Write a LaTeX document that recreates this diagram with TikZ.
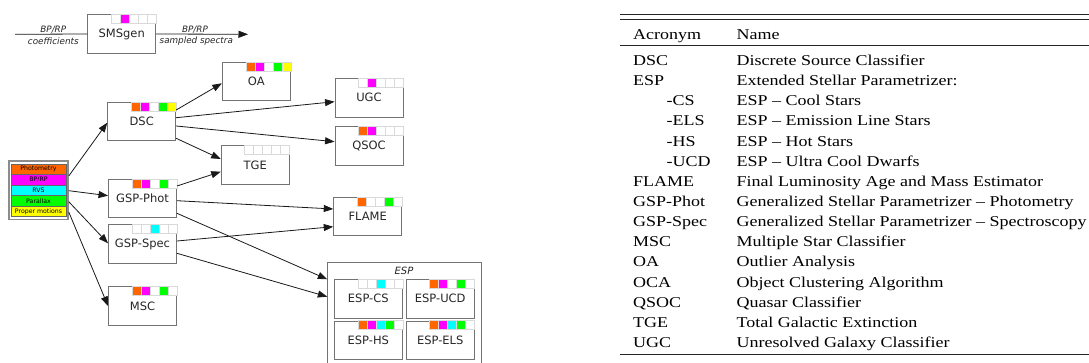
\documentclass[tikz,border=0pt]{standalone}
\usepackage{fontspec}
\setmainfont{Liberation Serif}
\newfontfamily\dv{DejaVu Sans}
\newfontfamily\tbl[FakeStretch=1.2]{Liberation Serif}
\usetikzlibrary{arrows.meta,calc}
\definecolor{cO}{HTML}{FF6600}
\definecolor{cM}{HTML}{FF00FF}
\definecolor{cC}{HTML}{00FFFF}
\definecolor{cG}{HTML}{00FF00}
\definecolor{cY}{HTML}{FFFF00}
\definecolor{cW}{HTML}{FFFFFF}
\tikzset{
  mbox/.style={draw=black!55, line width=0.9pt, minimum width=68pt, minimum height=38.5pt,
    inner sep=0pt, text=black!85, font=\dv\fontsize{11.5}{12}\selectfont},
  arr/.style={-{Triangle[length=9.5pt,width=7pt]}, line width=0.8pt, black!90},
  plain/.style={line width=0.8pt, black!90},
  lbl/.style={inner sep=0pt, text=black!85, font=\dv\itshape\fontsize{8.8}{9}\selectfont},
  legcell/.style={draw=black!60, line width=0.4pt, minimum width=55pt, minimum height=10.5pt,
    inner sep=0pt, font=\dv\fontsize{6.2}{6.5}\selectfont},
  cell/.style={draw=black!15, line width=0.5pt},
  tt/.style={anchor=base west, inner sep=0pt, font=\tbl\fontsize{15}{16}\selectfont},
  rule/.style={line width=0.8pt, black!85}
}
\newcommand\mystrip[2]{%
  \foreach \c [count=\i] in {#2} {
    \filldraw[cell, fill=\c] ($(#1.north east)+(\i*9-54,0)$) rectangle ++(9,9);
  }}
\newcommand\trow[4]{%
  \node[tt] (ta#1) at (#2, 65.5+20.15*#1) {#3};
  \node[tt] (tb#1) at (736.5, 65.5+20.15*#1) {#4};}
\begin{document}
\begin{tikzpicture}[x=1pt,y=-1pt]
\useasboundingbox (0,0) rectangle (1089,363);

% SMSgen
\node[mbox] (smsgen) at (121.7,34) {SMSgen};
\mystrip{smsgen}{cW,cM,cW,cW,cW}
\coordinate (c0) at (15,34.3);
\coordinate (c1) at (248,34.3);
\draw[plain] (c0) -- (smsgen.west);
\draw[arr] (smsgen.east) -- (c1);
\node[lbl] (l1) at (53.3,30) {BP/RP};
\node[lbl] (l2) at (53.3,41.5) {coefficients};
\node[lbl] (l3) at (195,30) {BP/RP};
\node[lbl] (l4) at (196.3,41.5) {sampled spectra};

% legend / input
\node[draw=black!45, line width=1.5pt, minimum width=59pt, minimum height=58.5pt, inner sep=0pt] (in) at (38.5,190.25) {};
\node[legcell, fill=cO] (g1) at (38.5,169.2) {Photometry};
\node[legcell, fill=cM] (g2) at (38.5,179.7) {BP/RP};
\node[legcell, fill=cC] (g3) at (38.5,190.3) {RVS};
\node[legcell, fill=cG] (g4) at (38.5,200.8) {Parallax};
\node[legcell, fill=cY] (g5) at (38.5,211.4) {Proper motions};

% modules
\node[mbox] (dsc) at (141.7,121.7) {DSC};
\mystrip{dsc}{cO,cM,cW,cG,cY}
\node[mbox] (gspphot) at (142.5,198.5) {GSP-Phot};
\mystrip{gspphot}{cO,cM,cW,cG,cW}
\node[mbox] (gspspec) at (142.5,244.2) {GSP-Spec};
\mystrip{gspspec}{cW,cW,cC,cW,cW}
\node[mbox] (msc) at (142.5,306) {MSC};
\mystrip{msc}{cO,cM,cW,cG,cW}
\node[mbox] (oa) at (256.3,81.7) {OA};
\mystrip{oa}{cO,cM,cW,cG,cY}
\node[mbox] (tge) at (255.2,165) {TGE};
\mystrip{tge}{cW,cW,cW,cW,cW}
\node[mbox] (ugc) at (369,97.8) {UGC};
\mystrip{ugc}{cW,cM,cW,cW,cW}
\node[mbox] (qsoc) at (369,145.8) {QSOC};
\mystrip{qsoc}{cO,cM,cW,cW,cW}
\node[mbox] (flame) at (367.7,216.7) {FLAME};
\mystrip{flame}{cO,cW,cW,cG,cW}

% ESP group
\node[draw=black!55, line width=0.9pt, minimum width=153.7pt, minimum height=110pt, inner sep=0pt, anchor=north west] (esp) at (327.3,262.3) {};
\node[lbl, font=\dv\itshape\fontsize{10}{10}\selectfont] (esptitle) at (404,270.5) {ESP};
\node[mbox] (espcs) at (368.3,298.8) {ESP-CS};
\mystrip{espcs}{cW,cW,cC,cW,cW}
\node[mbox] (espucd) at (440.2,298.8) {ESP-UCD};
\mystrip{espucd}{cO,cM,cW,cG,cW}
\node[mbox] (esphs) at (368.3,340.3) {ESP-HS};
\mystrip{esphs}{cO,cM,cC,cG,cW}
\node[mbox] (espels) at (440.2,340.3) {ESP-ELS};
\mystrip{espels}{cO,cM,cC,cG,cW}

% connectors
\draw[arr] ([yshift=14.25pt]in.east) -- ([yshift=-1pt]dsc.west);
\draw[arr] ([yshift=-0.45pt]in.east) -- ([yshift=2.8pt]gspphot.west);
\draw[arr] ([yshift=-11.45pt]in.east) -- ([yshift=0.9pt]gspspec.west);
\draw[arr] ([yshift=-21.75pt]in.east) -- (msc.west);
\draw[arr] ([yshift=11.7pt]dsc.east) -- ([yshift=-1.6pt]oa.west);
\draw[arr] ([yshift=4pt]dsc.east) -- ([yshift=-3.9pt]ugc.west);
\draw[arr] ([yshift=-4.3pt]dsc.east) -- ([yshift=4.1pt]qsoc.west);
\draw[arr] ([yshift=-16.6pt]dsc.east) -- ([yshift=6pt]tge.west);
\draw[arr] ([yshift=12.5pt]gspphot.east) -- ([yshift=-6.7pt]tge.west);
\draw[arr] ([yshift=-2.2pt]gspphot.east) -- ([yshift=7.7pt]flame.west);
\draw[arr] ([yshift=-14.8pt]gspphot.east) -- ([yshift=-17pt]esp.north west);
\draw[arr] ([yshift=3.2pt]gspspec.east) -- ([yshift=-10pt]flame.west);
\draw[arr] ([yshift=-9.1pt]gspspec.east) -- ([yshift=-34.4pt]esp.north west);

% table
\draw[rule] (620,14.3) -- (1089,14.3);
\draw[rule] (620,19.3) -- (1089,19.3);
\draw[rule, line width=0.6pt] (620,45.7) -- (1089,45.7);
\draw[rule] (620,354) -- (1089,354);
\node[tt] (h1) at (633,39.3) {Acronym};
\node[tt] (h2) at (736.5,39.3) {Name};
\trow{0}{633}{DSC}{Discrete Source Classifier}
\trow{1}{633}{ESP}{Extended Stellar Parametrizer:}
\trow{2}{666.5}{-CS}{ESP – Cool Stars}
\trow{3}{666.5}{-ELS}{ESP – Emission Line Stars}
\trow{4}{666.5}{-HS}{ESP – Hot Stars}
\trow{5}{666.5}{-UCD}{ESP – Ultra Cool Dwarfs}
\trow{6}{633}{FLAME}{Final Luminosity Age and Mass Estimator}
\trow{7}{633}{GSP-Phot}{Generalized Stellar Parametrizer – Photometry}
\trow{8}{633}{GSP-Spec}{Generalized Stellar Parametrizer – Spectroscopy}
\trow{9}{633}{MSC}{Multiple Star Classifier}
\trow{10}{633}{OA}{Outlier Analysis}
\trow{11}{633}{OCA}{Object Clustering Algorithm}
\trow{12}{633}{QSOC}{Quasar Classifier}
\trow{13}{633}{TGE}{Total Galactic Extinction}
\trow{14}{633}{UGC}{Unresolved Galaxy Classifier}
\end{tikzpicture}
\end{document}
